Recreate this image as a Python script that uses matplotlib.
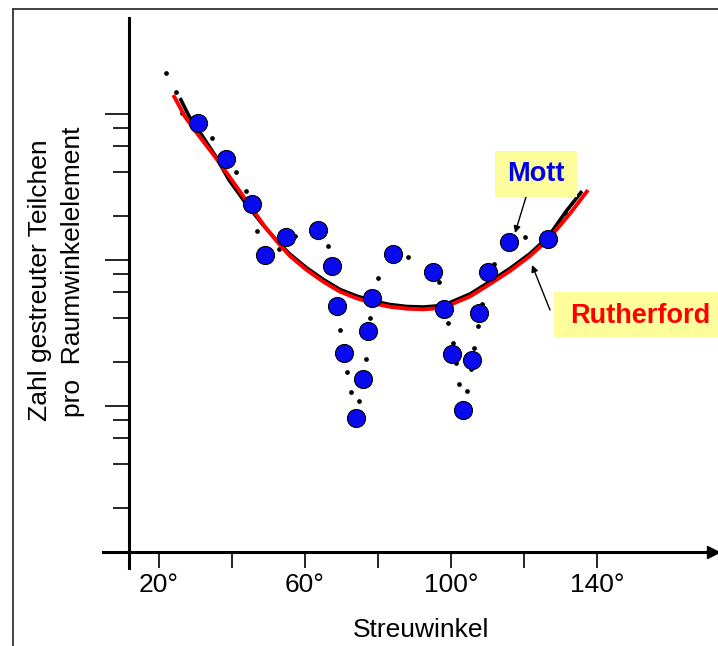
import matplotlib
matplotlib.use('Agg')
import matplotlib.pyplot as plt
from matplotlib.lines import Line2D
from matplotlib.patches import Rectangle

# measured points (Streuwinkel in degrees, counts per solid angle)
angles_meas = [30.6, 38.4, 45.4, 49.0, 54.8, 63.5, 67.5, 68.7, 70.7, 75.8, 73.9, 77.2,
               78.4, 84.2, 95.0, 98.2, 100.2, 103.4, 105.7, 107.7, 110.2, 116.0, 126.7]
counts_meas = [863, 492, 240, 108, 143, 159, 91, 48.2, 22.9, 15.2, 8.2, 32.6,
               54.7, 110, 82.8, 45.7, 22.5, 9.35, 20.6, 42.9, 82.8, 132, 138]

# small dots of the Mott prediction
angles_dots = [21.8, 24.6, 26.4, 34.4, 41.1, 43.8, 46.9, 53.0, 57.3, 66.4, 69.6, 71.4,
               72.5, 74.9, 76.6, 77.8, 80.1, 88.3, 96.7, 99.3, 100.5, 101.4, 102.3, 104.3,
               105.4, 106.4, 107.5, 108.6, 111.8, 120.4, 131.2]
counts_dots = [1909, 1402, 1016, 685, 397, 296, 157, 118, 146, 124, 33.0, 17.0,
               12.4, 10.8, 20.8, 40.1, 75.5, 105, 70.3, 37.0, 27.0, 19.5, 14.1, 12.7,
               17.8, 24.8, 35.2, 49.5, 93.9, 142, 210]

# Rutherford curve (red)
angles_ruth = [23.92, 27.12, 30.77, 35.34, 39.92, 44.47, 49.04, 53.15, 55.89, 60.47,
               65.01, 69.59, 74.16, 78.71, 83.29, 87.86, 92.41, 96.08, 99.73, 105.21,
               110.68, 116.16, 121.64, 126.58, 132.60, 137.53]
counts_ruth = [1343, 954, 715, 508, 352, 243, 168, 126, 106, 85.0,
               70.7, 60.4, 54.4, 50.3, 47.6, 46.2, 45.7, 46.5, 49.0, 56.0,
               68.2, 83.7, 106, 137, 207, 300]

# black curve underneath
angles_black = [25.75, 28.22, 31.51, 35.48, 39.18, 43.70, 48.49, 52.88, 55.89, 60.47,
                65.01, 69.59, 74.16, 78.71, 83.29, 87.86, 92.41, 96.08, 99.73, 105.21,
                110.68, 116.16, 121.64, 126.58, 131.51, 135.89]
counts_black = [1281, 964, 726, 513, 352, 245, 173, 130, 109, 87.8,
                73.2, 62.5, 56.4, 52.1, 49.3, 47.8, 47.4, 48.2, 50.9, 58.2,
                70.9, 87.1, 110, 143, 214, 295]

xticks_major = [20, 60, 100, 140]
xtick_labels = ['20°', '60°', '100°', '140°']
xticks_minor = [40, 80, 120]
yticks_major = [1, 10, 100, 1000]
yticks_minor = [m * d for d in (1, 10, 100) for m in (2, 4, 6, 8)]

plt.rcParams['font.family'] = ['Liberation Sans', 'DejaVu Sans']

W, H = 718, 646


def fx(px):
    return px / W


def fy(py):
    return 1 - py / H


fig = plt.figure(figsize=(7.18, 6.46), dpi=100)
ax = fig.add_axes([fx(103), fy(568), 610 / W, 550 / H])
ax.set_yscale('log')
ax.set_xlim(4.66, 171.78)
ax.set_ylim(0.7732, 4524)

# axes styling
for s in ('top', 'right'):
    ax.spines[s].set_visible(False)
ax.spines['left'].set_position(('data', 11.7))
ax.spines['bottom'].set_position(('data', 1.0))
for s in ('left', 'bottom'):
    ax.spines[s].set_linewidth(2.2)
ax.plot([1.0], [1.0], marker='>', ms=8, color='k', transform=ax.get_yaxis_transform(),
        clip_on=False)

ax.set_xticks(xticks_major)
ax.set_xticklabels(xtick_labels, fontsize=19)
ax.set_xticks(xticks_minor, minor=True)
ax.set_yticks(yticks_major)
ax.set_yticks(yticks_minor, minor=True)
ax.tick_params(axis='x', which='both', direction='out', length=11.5, width=1.2, pad=3.5)
ax.tick_params(axis='y', which='major', direction='out', length=17, width=1.2)
ax.tick_params(axis='y', which='minor', direction='out', length=11.5, width=1.2)
ax.tick_params(axis='y', which='both', labelleft=False)

# curves and points
ax.plot(angles_dots, counts_dots, 'o', color='k', ms=2.4, zorder=2)
ax.plot(angles_black, counts_black, color='k', lw=2.6, solid_capstyle='butt',
        solid_joinstyle='round', zorder=3)
ax.plot(angles_ruth, counts_ruth, color='#ff0000', lw=2.8, solid_capstyle='butt',
        solid_joinstyle='round', zorder=4)
ax.plot(angles_meas, counts_meas, 'o', color='#0a0aee', mec='k', mew=0.8, ms=13, zorder=5)

# labels
fig.text(fx(421), fy(637), 'Streuwinkel', fontsize=19, ha='center', va='baseline')
fig.text(fx(40), fy(280), 'Zahl gestreuter Teilchen', fontsize=19, rotation=90,
         ha='center', va='center')
fig.text(fx(73), fy(272), 'pro  Raumwinkelelement', fontsize=19, rotation=90,
         ha='center', va='center')

# annotation boxes
fig.patches.append(Rectangle((fx(495), fy(197)), 82 / W, 46 / H, transform=fig.transFigure,
                             facecolor='#fdfd9c', edgecolor='none', zorder=1))
fig.text(fx(536), fy(174), 'Mott', fontsize=19.5, fontweight='bold', color='#0000ee',
         ha='center', va='center', zorder=2)
fig.patches.append(Rectangle((fx(554), fy(337)), 164 / W, 45 / H, transform=fig.transFigure,
                             facecolor='#fdfd9c', edgecolor='none', zorder=1))
fig.text(fx(640), fy(316), 'Rutherford', fontsize=19.5, fontweight='bold', color='#ff0000',
         ha='center', va='center', zorder=2)

ax.annotate('', xy=(fx(515), fy(233)), xytext=(fx(526), fy(197)), xycoords='figure fraction',
            textcoords='figure fraction',
            arrowprops=dict(arrowstyle='-|>', lw=1, color='k', mutation_scale=10,
                            shrinkA=0, shrinkB=0))
ax.annotate('', xy=(fx(532), fy(265)), xytext=(fx(550), fy(310)), xycoords='figure fraction',
            textcoords='figure fraction',
            arrowprops=dict(arrowstyle='-|>', lw=1, color='k', mutation_scale=10,
                            shrinkA=0, shrinkB=0))

# frame lines at top and left
fig.add_artist(Line2D([fx(13), fx(13)], [fy(646), fy(9)], color='#333333', lw=1.3,
                      transform=fig.transFigure))
fig.add_artist(Line2D([fx(13), fx(718)], [fy(9), fy(9)], color='#333333', lw=1.3,
                      transform=fig.transFigure))

fig.savefig('out.png', dpi=100)
plt.close(fig)
